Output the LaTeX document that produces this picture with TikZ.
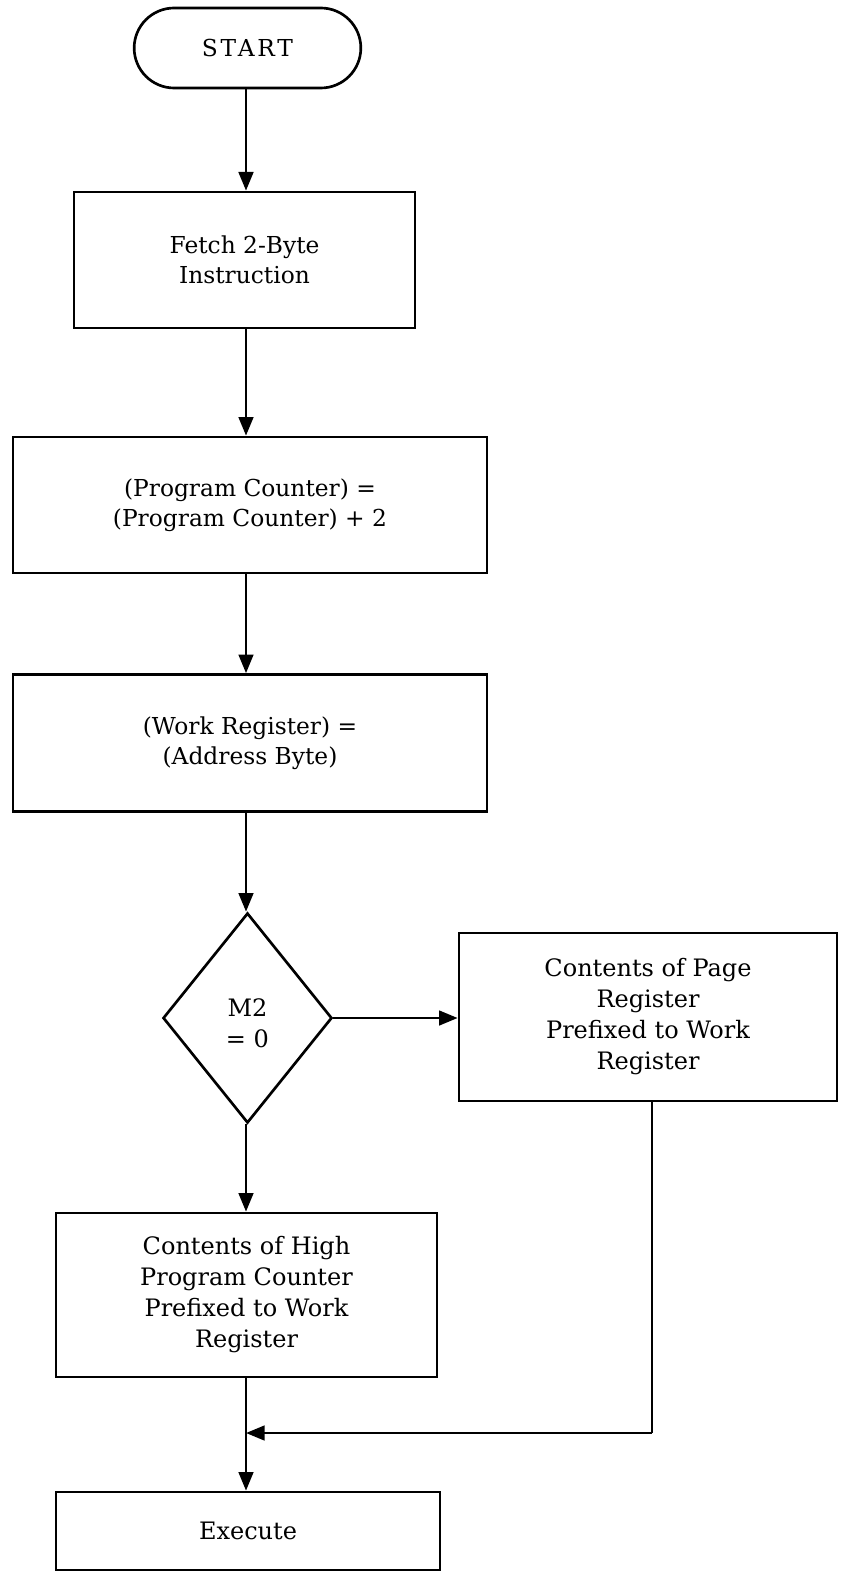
\documentclass[tikz,border=0pt]{standalone}
\usepackage{fontspec}
\setmainfont{DejaVu Serif}
\newfontfamily\spacedfont[LetterSpace=12]{DejaVu Serif}
\usetikzlibrary{shapes.geometric,arrows.meta}
\begin{document}
\begin{tikzpicture}[x=0.75pt,y=-0.75pt,
  box/.style={draw,line width=2pt,rectangle,inner sep=0pt,align=center,
    font=\fontsize{17.5}{22.5}\selectfont},
  lowbox/.style={box,font=\fontsize{18}{23.25}\selectfont},
  arr/.style={line width=2pt,-{Triangle[length=14pt,width=11pt]}},
  ln/.style={line width=2pt}]
\useasboundingbox (0,0) rectangle (840,1573);
\node[box,rounded corners=30pt,minimum width=170pt,minimum height=60pt,font=\spacedfont\fontsize{17.5}{22.5}\selectfont] (start) at (247.5,48) {START};
\node[box,minimum width=255.75pt,minimum height=102pt] (fetch) at (244.5,260) {Fetch 2-Byte\\Instruction};
\node[box,minimum width=355.5pt,minimum height=102pt] (pc) at (250,505) {(Program Counter) =\\(Program Counter) + 2};
\node[box,minimum width=355.5pt,minimum height=102.75pt] (wr) at (250,743) {(Work Register) =\\(Address Byte)};
\node[box,diamond,minimum width=126.75pt,minimum height=157.5pt] (dia) at (247.5,1018) {};
\node[lowbox,draw=none] (diat) at (247.5,1023) {M2\\= 0};
\node[lowbox,minimum width=283.5pt,minimum height=126pt] (page) at (648,1017) {Contents of Page\\Register\\Prefixed to Work\\Register};
\node[lowbox,minimum width=285.75pt,minimum height=123pt] (high) at (246.5,1295) {Contents of High\\Program Counter\\Prefixed to Work\\Register};
\node[lowbox,minimum width=288pt,minimum height=58.5pt] (exec) at (248,1531) {Execute};
\coordinate (col) at (246,0);
\coordinate (join) at (246,1433);
\coordinate (jr) at (652,1433);
\draw[arr] (start.south -| col) -- (fetch.north -| col);
\draw[arr] (fetch.south -| col) -- (pc.north -| col);
\draw[arr] (pc.south -| col) -- (wr.north -| col);
\draw[arr] (wr.south -| col) -- (dia.north -| col);
\draw[arr] (dia.east) -- (dia.east -| page.west);
\draw[arr] (dia.south -| col) -- (high.north -| col);
\draw[arr] (high.south -| col) -- (exec.north -| col);
\draw[ln] (page.south -| jr) -- (jr);
\draw[arr] (jr) -- (join);
\end{tikzpicture}
\end{document}
